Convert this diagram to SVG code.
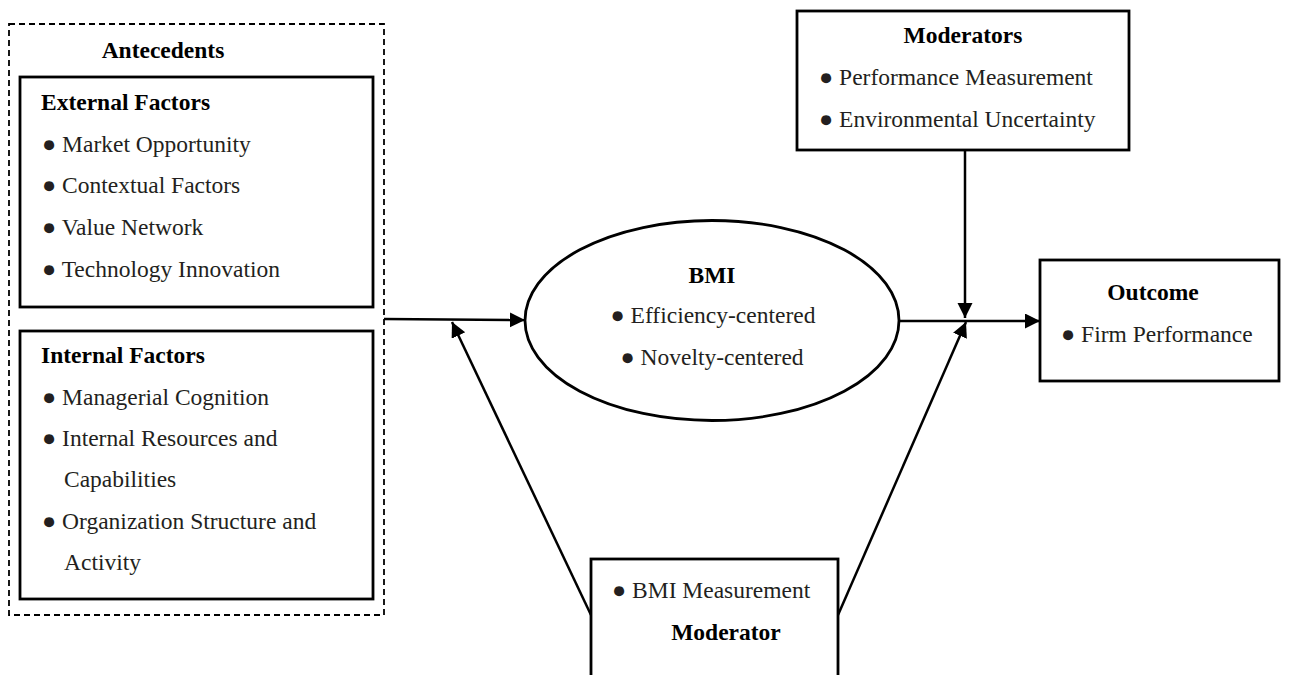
<svg xmlns="http://www.w3.org/2000/svg" width="1290" height="675" viewBox="0 0 1290 675">
<style>
text{font-family:"Liberation Serif","Times New Roman",serif;font-size:23.5px;fill:#231f20}
.b{font-weight:bold;fill:#000}
.c{text-anchor:middle}
.box{fill:#fff;stroke:#000;stroke-width:2.8}
.dash{fill:none;stroke:#000;stroke-width:1.8;stroke-dasharray:6 4}
.ln{fill:none;stroke:#000;stroke-width:2.5}
</style>
<defs>
<marker id="ah" markerUnits="userSpaceOnUse" markerWidth="16" markerHeight="16" refX="15" refY="7.5" orient="auto" viewBox="0 0 16 16">
<path d="M0,0 L15,7.5 L0,15 z" fill="#000"/>
</marker>
</defs>
<rect width="1290" height="675" fill="#fff"/>
<g id="antecedents">
<rect class="dash" x="9" y="24" width="375" height="591"/>
<text class="b c" x="163" y="58">Antecedents</text>
</g>
<g id="external">
<rect class="box" x="20" y="77" width="353" height="230"/>
<text class="b" x="41" y="110">External Factors</text>
<text x="42" y="152">● Market Opportunity</text>
<text x="42" y="193">● Contextual Factors</text>
<text x="42" y="235">● Value Network</text>
<text x="42" y="277">● Technology Innovation</text>
</g>
<g id="internal">
<rect class="box" x="20" y="331" width="353" height="268"/>
<text class="b" x="41" y="363">Internal Factors</text>
<text x="42" y="405">● Managerial Cognition</text>
<text x="42" y="446">● Internal Resources and</text>
<text x="64" y="487">Capabilities</text>
<text x="42" y="529">● Organization Structure and</text>
<text x="64" y="570">Activity</text>
</g>
<g id="bmi">
<ellipse class="box" cx="712" cy="320.5" rx="187" ry="100"/>
<text class="b c" x="712" y="283">BMI</text>
<text class="c" x="713" y="323">● Efficiency-centered</text>
<text class="c" x="712" y="365">● Novelty-centered</text>
</g>
<g id="moderators">
<rect class="box" x="797" y="11" width="332" height="139"/>
<text class="b c" x="963" y="43">Moderators</text>
<text x="819" y="85">● Performance Measurement</text>
<text x="819" y="127">● Environmental Uncertainty</text>
</g>
<g id="outcome">
<rect class="box" x="1040" y="260" width="239" height="121"/>
<text class="b c" x="1153" y="300">Outcome</text>
<text x="1061" y="342">● Firm Performance</text>
</g>
<g id="moderator">
<rect class="box" x="591" y="559" width="247" height="140"/>
<text x="612" y="598">● BMI Measurement</text>
<text class="b c" x="726" y="640">Moderator</text>
</g>
<g id="connectors">
<line class="ln" x1="384" y1="319" x2="525" y2="320" marker-end="url(#ah)"/>
<line class="ln" x1="899" y1="321" x2="1040" y2="321" marker-end="url(#ah)"/>
<line class="ln" x1="965" y1="150" x2="965" y2="318" marker-end="url(#ah)"/>
<line class="ln" x1="591" y1="615" x2="452" y2="322" marker-end="url(#ah)"/>
<line class="ln" x1="838" y1="615" x2="966" y2="322" marker-end="url(#ah)"/>
</g>
</svg>
